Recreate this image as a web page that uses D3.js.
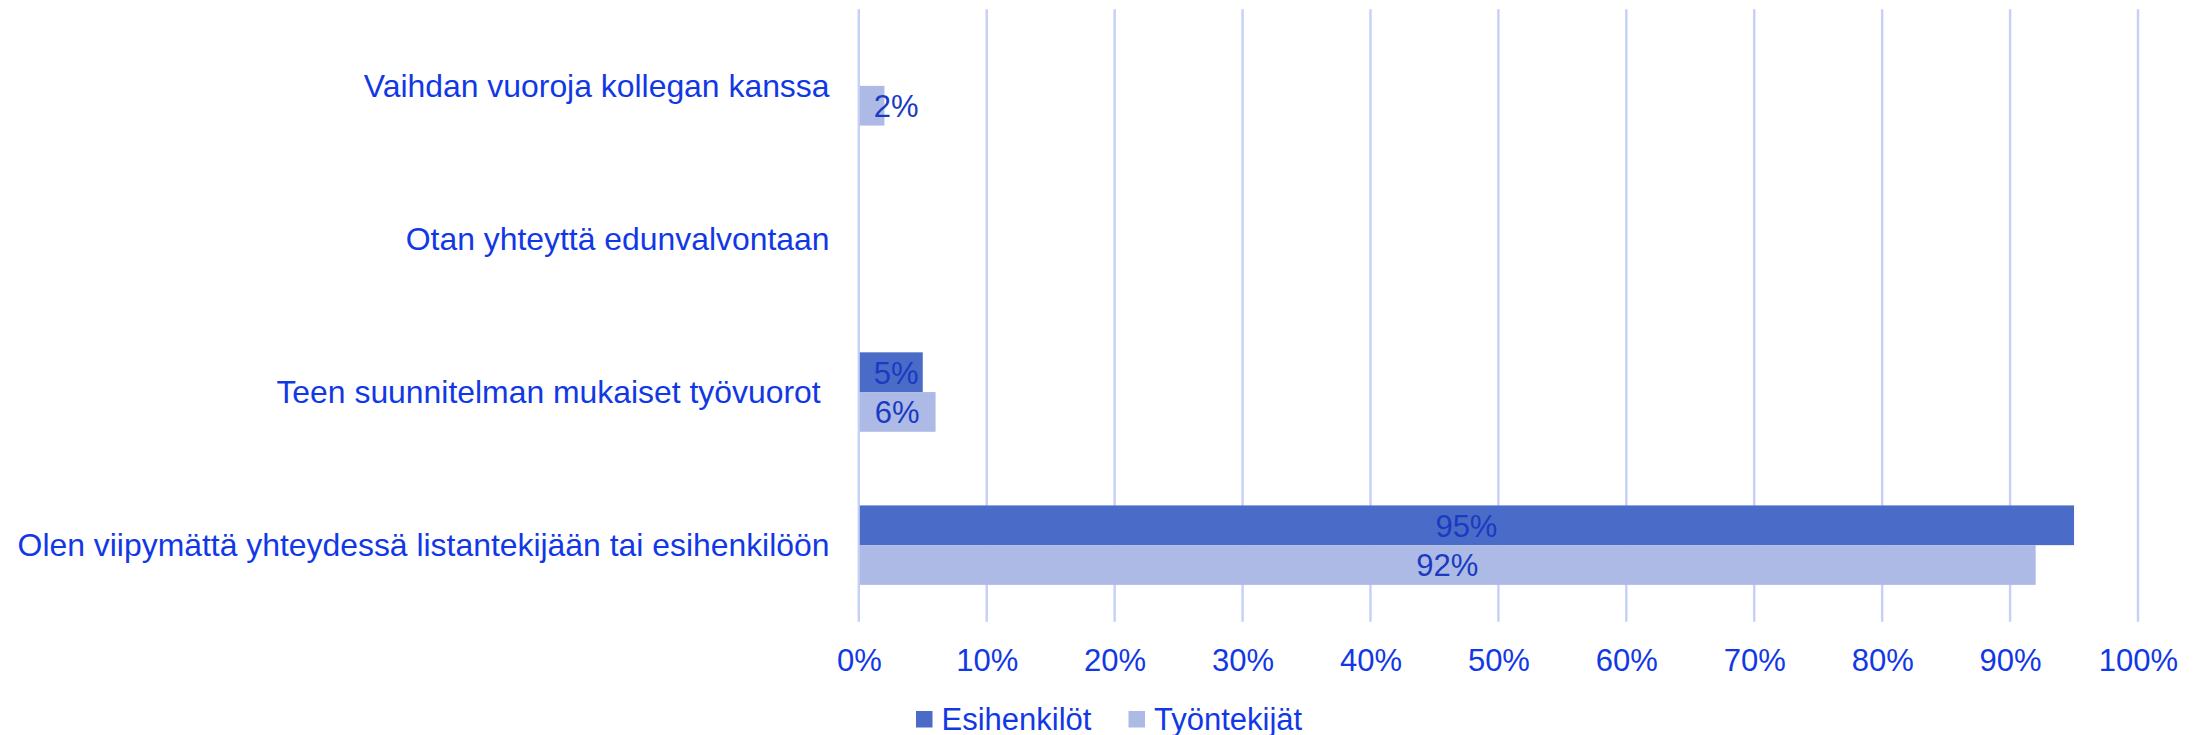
<!DOCTYPE html>
<html>
<head>
<meta charset="utf-8">
<script src="https://cdn.jsdelivr.net/npm/d3@7"></script>
<style>
  html, body { margin: 0; padding: 0; background: #ffffff; }
  svg { display: block; font-family: "Liberation Sans", Arial, sans-serif; }
</style>
</head>
<body>
<svg id="chart" width="2204" height="735"></svg>
<script>
// ---- data ----
const categories = [
  "Vaihdan vuoroja kollegan kanssa",
  "Otan yhteyttä edunvalvontaan",
  "Teen suunnitelman mukaiset työvuorot ",
  "Olen viipymättä yhteydessä listantekijään tai esihenkilöön"
];
const seriesNames = ["Esihenkilöt", "Työntekijät"];
const esihenkilot = [null, null, 5, 95];
const tyontekijat = [2, null, 6, 92];
const tickValues = [0, 10, 20, 30, 40, 50, 60, 70, 80, 90, 100];

// ---- styles ----
const colors = ["#4a6cc8", "#adbae5"];
const gridColor = "#c6d0f6";
const textColor = "#1238e6";
const labelColor = "#1a3ac2";
const fontSize = 31;
const catFontSize = 31.9;

const svg = d3.select("#chart");
const W = 2204, H = 735;
const margin = { left: 858.8, right: W - 2138, top: 9.3, bottom: H - 621.7 };

const x = d3.scaleLinear().domain([0, 100]).range([margin.left, W - margin.right]);
const y = d3.scaleBand().domain(categories).range([margin.top, H - margin.bottom])
  .paddingInner(0.481).paddingOuter(0.2405);
const ySub = d3.scaleBand().domain(seriesNames).range([0, y.bandwidth()]);

// gridlines
svg.append("g").selectAll("line").data(tickValues).join("line")
  .attr("x1", d => x(d)).attr("x2", d => x(d))
  .attr("y1", margin.top).attr("y2", H - margin.bottom)
  .attr("stroke", gridColor).attr("stroke-width", 2.4);

// x axis tick labels
const xAxis = d3.axisBottom(x).tickValues(tickValues).tickFormat(d => d + "%").tickSize(0).tickPadding(0);
const gx = svg.append("g").attr("transform", `translate(0, ${H - margin.bottom})`).call(xAxis);
gx.select(".domain").remove();
gx.selectAll("text")
  .attr("y", 49.5).attr("dy", null)
  .attr("fill", textColor).attr("font-size", fontSize)
  .attr("font-family", "'Liberation Sans', Arial, sans-serif");

// category labels
const yAxis = d3.axisLeft(y).tickSize(0).tickPadding(0);
const gy = svg.append("g").attr("transform", `translate(829.5, 0)`).call(yAxis);
gy.select(".domain").remove();
gy.selectAll("text")
  .attr("x", 0).attr("dy", "0.35em")
  .attr("fill", textColor).attr("font-size", catFontSize)
  .attr("font-family", "'Liberation Sans', Arial, sans-serif")
  .style("white-space", "pre");

// bars
const seriesData = [esihenkilot, tyontekijat];
const rows = [];
seriesData.forEach((vals, si) => {
  vals.forEach((v, ci) => {
    if (v !== null) rows.push({ s: seriesNames[si], si, c: categories[ci], v });
  });
});

svg.append("g").selectAll("rect").data(rows).join("rect")
  .attr("x", x(0) + 1)
  .attr("y", d => y(d.c) + ySub(d.s))
  .attr("width", d => x(d.v) - x(0) - 1)
  .attr("height", ySub.bandwidth())
  .attr("fill", d => colors[d.si]);

// data labels
const lbl = svg.append("g").selectAll("text").data(rows).join("text")
  .attr("y", d => y(d.c) + ySub(d.s) + ySub.bandwidth() / 2)
  .attr("dy", "0.37em")
  .attr("text-anchor", "middle")
  .attr("fill", labelColor)
  .attr("font-size", fontSize)
  .text(d => d.v + "%");
lbl.each(function(d) {
  const w = this.getComputedTextLength();
  const mid = (x(0) + x(d.v)) / 2;
  d3.select(this).attr("x", Math.max(mid, x(0) + 15 + w / 2));
});

// legend
const legend = svg.append("g").attr("transform", "translate(916, 711)");
const legendX = [0, 212.5];
seriesNames.forEach((name, i) => {
  const g = legend.append("g").attr("transform", `translate(${legendX[i]}, 0)`);
  g.append("rect").attr("width", 16.5).attr("height", 16.5).attr("fill", colors[i]);
  g.append("text").attr("x", 25.5).attr("y", 18.5)
    .attr("fill", textColor).attr("font-size", fontSize).text(name);
});
</script>
</body>
</html>
